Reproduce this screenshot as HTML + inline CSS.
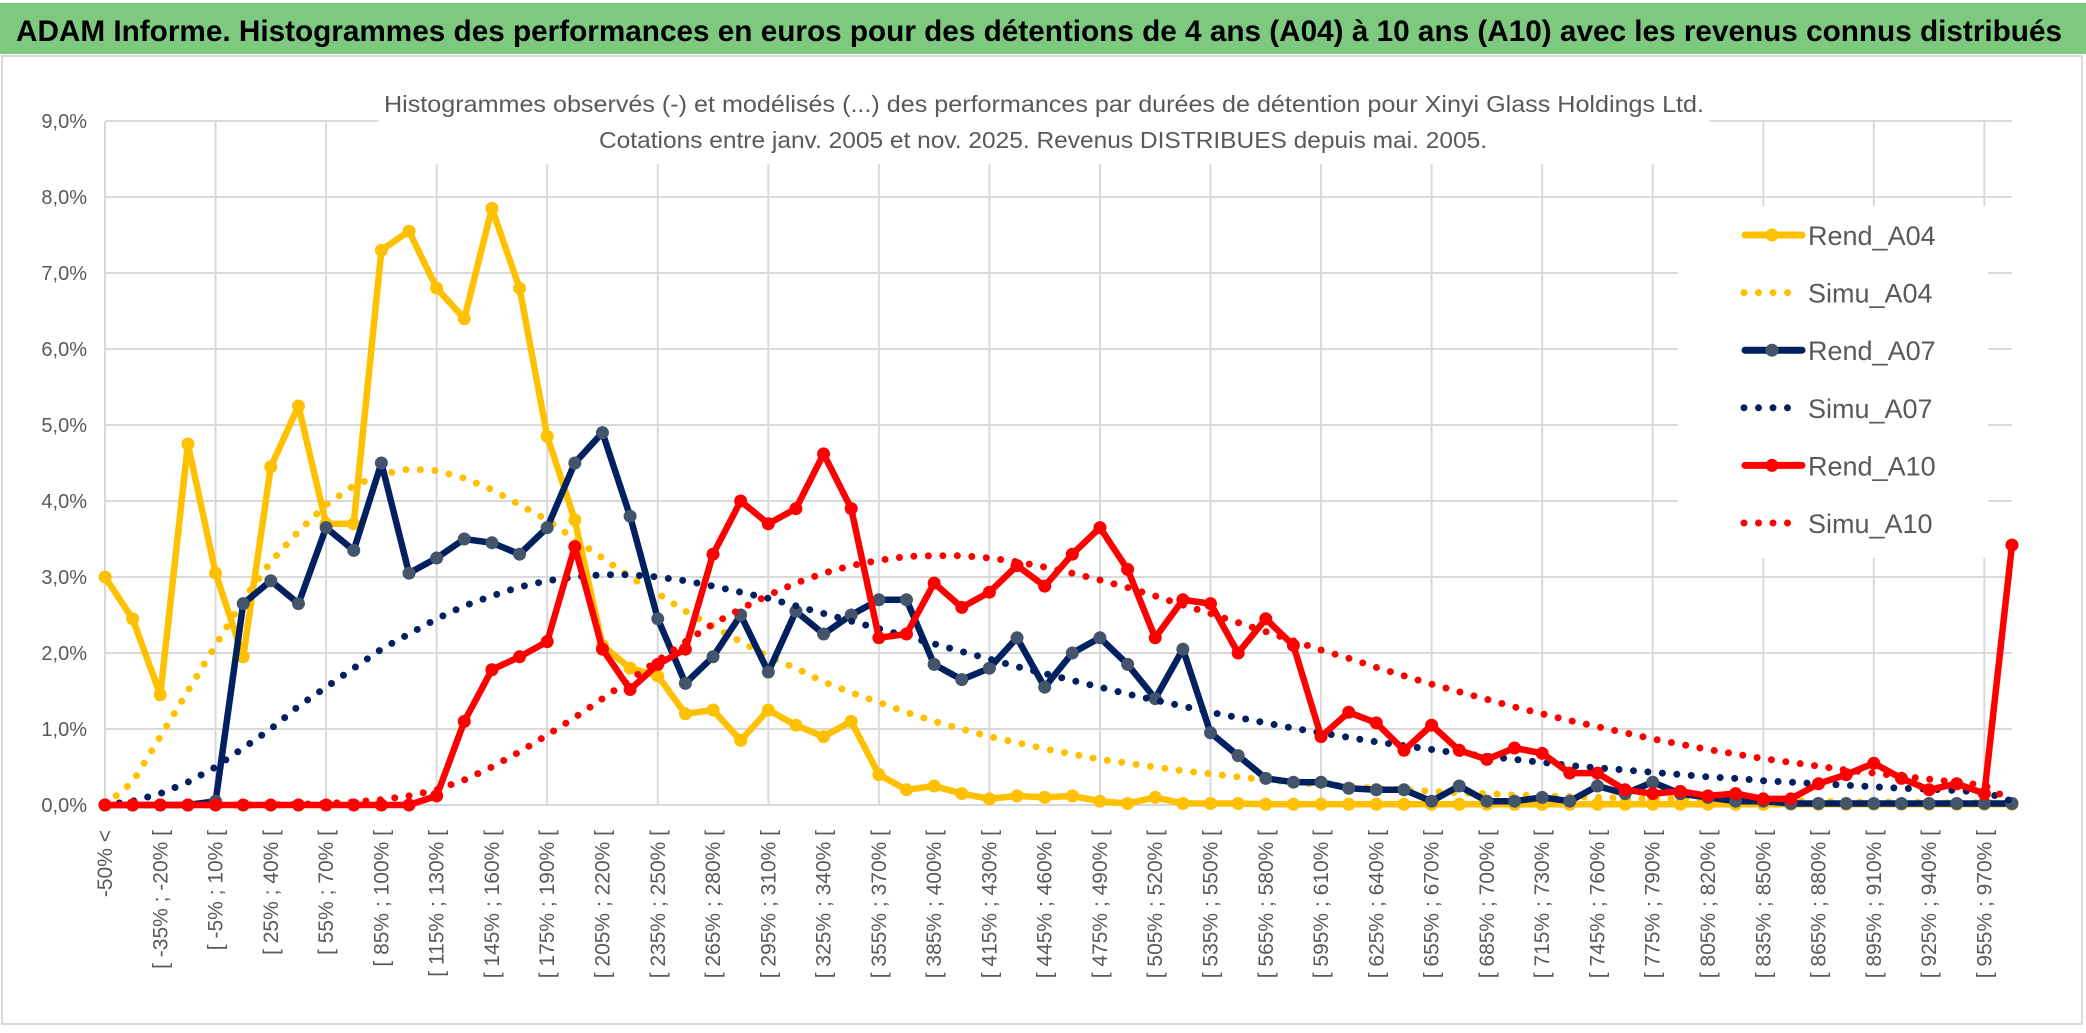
<!DOCTYPE html>
<html><head><meta charset="utf-8"><style>
html,body{margin:0;padding:0;background:#fff;}
svg{display:block;font-family:"Liberation Sans",sans-serif;}
</style></head><body>
<svg id="chart" width="2086" height="1033" viewBox="0 0 2086 1033">
<rect x="0" y="0" width="2086" height="1033" fill="#fff"/>
<rect x="2" y="56" width="2080" height="968" fill="#fff" stroke="#d9d9d9" stroke-width="2"/>
<rect x="0" y="3" width="2086" height="51" fill="#7DC97F"/>
<text x="16" y="41" font-size="30" font-weight="bold" fill="#000" textLength="2046" lengthAdjust="spacingAndGlyphs">ADAM Informe. Histogrammes des performances en euros pour des détentions de 4 ans (A04) à 10 ans (A10) avec les revenus connus distribués</text>
<g id="grid"></g>
<g id="yaxis"></g>
<g id="xaxis"></g>
<rect x="378" y="84" width="1332" height="80" fill="#fff"/>
<text x="1044" y="112" font-size="23" fill="#595959" text-anchor="middle" textLength="1320" lengthAdjust="spacingAndGlyphs">Histogrammes observés (-) et modélisés (...) des performances par durées de détention pour Xinyi Glass Holdings Ltd.</text>
<text x="1043" y="148" font-size="23" fill="#595959" text-anchor="middle" textLength="888" lengthAdjust="spacingAndGlyphs">Cotations entre janv. 2005 et nov. 2025. Revenus DISTRIBUES depuis mai. 2005.</text>
<g id="series"></g>
<rect x="1678" y="206" width="310" height="352" fill="#fff"/>
<g id="legend"></g>
</svg>
<script>
const categories = ["-50% <","[ -50% ; -35% [","[ -35% ; -20% [","[ -20% ; -5% [","[ -5% ; 10% [","[ 10% ; 25% [","[ 25% ; 40% [","[ 40% ; 55% [","[ 55% ; 70% [","[ 70% ; 85% [","[ 85% ; 100% [","[ 100% ; 115% [","[ 115% ; 130% [","[ 130% ; 145% [","[ 145% ; 160% [","[ 160% ; 175% [","[ 175% ; 190% [","[ 190% ; 205% [","[ 205% ; 220% [","[ 220% ; 235% [","[ 235% ; 250% [","[ 250% ; 265% [","[ 265% ; 280% [","[ 280% ; 295% [","[ 295% ; 310% [","[ 310% ; 325% [","[ 325% ; 340% [","[ 340% ; 355% [","[ 355% ; 370% [","[ 370% ; 385% [","[ 385% ; 400% [","[ 400% ; 415% [","[ 415% ; 430% [","[ 430% ; 445% [","[ 445% ; 460% [","[ 460% ; 475% [","[ 475% ; 490% [","[ 490% ; 505% [","[ 505% ; 520% [","[ 520% ; 535% [","[ 535% ; 550% [","[ 550% ; 565% [","[ 565% ; 580% [","[ 580% ; 595% [","[ 595% ; 610% [","[ 610% ; 625% [","[ 625% ; 640% [","[ 640% ; 655% [","[ 655% ; 670% [","[ 670% ; 685% [","[ 685% ; 700% [","[ 700% ; 715% [","[ 715% ; 730% [","[ 730% ; 745% [","[ 745% ; 760% [","[ 760% ; 775% [","[ 775% ; 790% [","[ 790% ; 805% [","[ 805% ; 820% [","[ 820% ; 835% [","[ 835% ; 850% [","[ 850% ; 865% [","[ 865% ; 880% [","[ 880% ; 895% [","[ 895% ; 910% [","[ 910% ; 925% [","[ 925% ; 940% [","[ 940% ; 955% [","[ 955% ; 970% [","> 970%"];
const yTicks = [0,1,2,3,4,5,6,7,8,9];
const yTickLabels = ["0,0%","1,0%","2,0%","3,0%","4,0%","5,0%","6,0%","7,0%","8,0%","9,0%"];
const rendA04 = [3.0,2.45,1.45,4.75,3.05,1.95,4.45,5.25,3.7,3.7,7.3,7.55,6.8,6.4,7.85,6.8,4.85,3.75,2.1,1.8,1.7,1.2,1.25,0.85,1.25,1.05,0.9,1.1,0.4,0.2,0.25,0.15,0.08,0.12,0.1,0.12,0.05,0.02,0.1,0.02,0.02,0.02,0.01,0.01,0.01,0.01,0.01,0.01,0.01,0.01,0.01,0.01,0.01,0.01,0.01,0.01,0.01,0.01,0.01,0.01,0.01,0.01,0.01,0.01,0.01,0.01,0.01,0.01,0.01,0.01];
const simuA04 = [0,0.3,0.9,1.5,2.1,2.7,3.2,3.6,3.95,4.2,4.35,4.42,4.4,4.3,4.15,3.95,3.75,3.5,3.25,3.0,2.78,2.55,2.35,2.15,1.95,1.8,1.62,1.48,1.35,1.22,1.1,1.0,0.9,0.82,0.74,0.67,0.6,0.55,0.5,0.45,0.41,0.37,0.33,0.3,0.27,0.25,0.22,0.2,0.18,0.16,0.15,0.13,0.12,0.11,0.1,0.09,0.08,0.08,0.07,0.06,0.06,0.05,0.05,0.04,0.04,0.04,0.03,0.03,0.03,0.02];
const rendA07 = [0,0,0,0,0.05,2.65,2.95,2.65,3.65,3.35,4.5,3.05,3.25,3.5,3.45,3.3,3.65,4.5,4.9,3.8,2.45,1.6,1.95,2.5,1.75,2.55,2.25,2.5,2.7,2.7,1.85,1.65,1.8,2.2,1.55,2.0,2.2,1.85,1.4,2.05,0.95,0.65,0.35,0.3,0.3,0.22,0.2,0.2,0.05,0.25,0.05,0.05,0.1,0.05,0.25,0.15,0.3,0.15,0.1,0.05,0.05,0.02,0.02,0.02,0.02,0.02,0.02,0.02,0.02,0.02];
const simuA07 = [0,0.05,0.15,0.3,0.5,0.75,1.0,1.3,1.55,1.8,2.05,2.25,2.45,2.62,2.75,2.87,2.95,3.0,3.03,3.03,3.0,2.95,2.88,2.8,2.72,2.62,2.52,2.42,2.32,2.22,2.12,2.02,1.92,1.82,1.73,1.64,1.55,1.46,1.38,1.3,1.22,1.15,1.08,1.01,0.95,0.89,0.83,0.78,0.73,0.68,0.64,0.6,0.56,0.52,0.49,0.46,0.43,0.4,0.37,0.35,0.32,0.3,0.28,0.26,0.24,0.22,0.21,0.19,0.17,0.05];
const rendA10 = [0,0,0,0,0,0,0,0,0,0,0,0,0.12,1.1,1.78,1.95,2.15,3.4,2.05,1.52,1.85,2.05,3.3,4.0,3.7,3.9,4.62,3.9,2.2,2.25,2.92,2.6,2.8,3.15,2.88,3.3,3.65,3.1,2.2,2.7,2.65,2.0,2.45,2.1,0.9,1.22,1.08,0.72,1.05,0.72,0.6,0.75,0.68,0.42,0.42,0.2,0.15,0.18,0.12,0.15,0.08,0.08,0.28,0.4,0.55,0.35,0.2,0.28,0.15,3.42];
const simuA10 = [0,0,0,0,0,0,0,0.01,0.02,0.04,0.07,0.12,0.2,0.33,0.5,0.7,0.92,1.15,1.4,1.65,1.9,2.15,2.38,2.58,2.76,2.92,3.05,3.15,3.22,3.27,3.28,3.28,3.25,3.2,3.13,3.05,2.96,2.86,2.75,2.63,2.52,2.4,2.28,2.16,2.04,1.93,1.81,1.7,1.59,1.49,1.39,1.29,1.2,1.11,1.03,0.95,0.87,0.8,0.73,0.67,0.61,0.56,0.51,0.46,0.42,0.38,0.34,0.3,0.26,0.05];
const seriesNames = ["Rend_A04","Simu_A04","Rend_A07","Simu_A07","Rend_A10","Simu_A10"];

const NS = "http://www.w3.org/2000/svg";
const X0 = 105, STEP = (2012 - 105) / 69, Y0 = 805, YU = 76;
function xs(i){ return X0 + i * STEP; }
function ys(v){ return Y0 - v * YU; }
function mk(tag, attrs, parent){ const e = document.createElementNS(NS, tag); for (const k in attrs) e.setAttribute(k, attrs[k]); parent.appendChild(e); return e; }

const grid = document.getElementById('grid');
for (let i = 0; i < categories.length; i += 4) {
  const l = mk('line', {x1: xs(i), x2: xs(i), y1: ys(9), y2: ys(0), stroke: '#d9d9d9', 'stroke-width': 2}, grid);
  
  
}
const yax = document.getElementById('yaxis');
yTicks.forEach((t, k) => {
  const l = mk('line', {x1: xs(0), x2: xs(69), y1: ys(t), y2: ys(t), stroke: '#d9d9d9', 'stroke-width': 2}, grid);
  
  
  const tx = mk('text', {x: 87, y: ys(t) + 7, 'font-size': 20, fill: '#595959', 'text-anchor': 'end'}, yax);
  tx.textContent = yTickLabels[k];
  
  
});
const xax = document.getElementById('xaxis');
categories.forEach((c, i) => {
  if (i % 2 !== 0 || i > 68) return;
  const x = xs(i) + 7;
  const tx = mk('text', {x: x, y: 830, 'font-size': 21, fill: '#595959', 'text-anchor': 'end', transform: 'rotate(-90 ' + x + ' 830)'}, xax);
  tx.textContent = c;
  
  
});

const sg = document.getElementById('series');
function pts(arr){ return arr.map((v, i) => xs(i).toFixed(1) + ',' + ys(v).toFixed(1)).join(' '); }
function dotted(arr, color, name){
  const p = mk('polyline', {points: pts(arr), fill: 'none', stroke: color, 'stroke-width': 7, 'stroke-linecap': 'round', 'stroke-dasharray': '0 14.5'}, sg);
  
  
}
function solid(arr, color, mcolor, name){
  const g = mk('g', {}, sg);
  
  
  const p = mk('polyline', {points: pts(arr), fill: 'none', stroke: color, 'stroke-width': 6.5, 'stroke-linejoin': 'round', 'stroke-linecap': 'round'}, g);
  
  
  arr.forEach((v, i) => {
    const c = mk('circle', {cx: xs(i), cy: ys(v), r: 6.5, fill: mcolor}, g);
    
    
  });
}
solid(rendA04, '#FFC000', '#FFC000', 'rend-a04');
dotted(simuA04, '#FFC000', 'simu-a04');
solid(rendA07, '#002060', '#44546A', 'rend-a07');
dotted(simuA07, '#002060', 'simu-a07');
solid(rendA10, '#FF0000', '#FF0000', 'rend-a10');
dotted(simuA10, '#FF0000', 'simu-a10');

const lg = document.getElementById('legend');
const legColors = ['#FFC000','#FFC000','#002060','#002060','#FF0000','#FF0000'];
const legMarker = ['#FFC000','','#44546A','','#FF0000',''];
seriesNames.forEach((n, k) => {
  const y = 235 + k * 57.6;
  const g = mk('g', {}, lg);
  
  
  if (k % 2 === 0) {
    mk('line', {x1: 1745, x2: 1802, y1: y, y2: y, stroke: legColors[k], 'stroke-width': 7, 'stroke-linecap': 'round'}, g);
    mk('circle', {cx: 1772, cy: y, r: 6.5, fill: legMarker[k]}, g);
  } else {
    mk('line', {x1: 1744, x2: 1800, y1: y, y2: y, stroke: legColors[k], 'stroke-width': 7, 'stroke-linecap': 'round', 'stroke-dasharray': '0 14.5'}, g);
  }
  const t = mk('text', {x: 1808, y: y + 10, 'font-size': 27, fill: '#595959'}, g);
  t.textContent = n;
  
  
});
</script>
</body></html>
